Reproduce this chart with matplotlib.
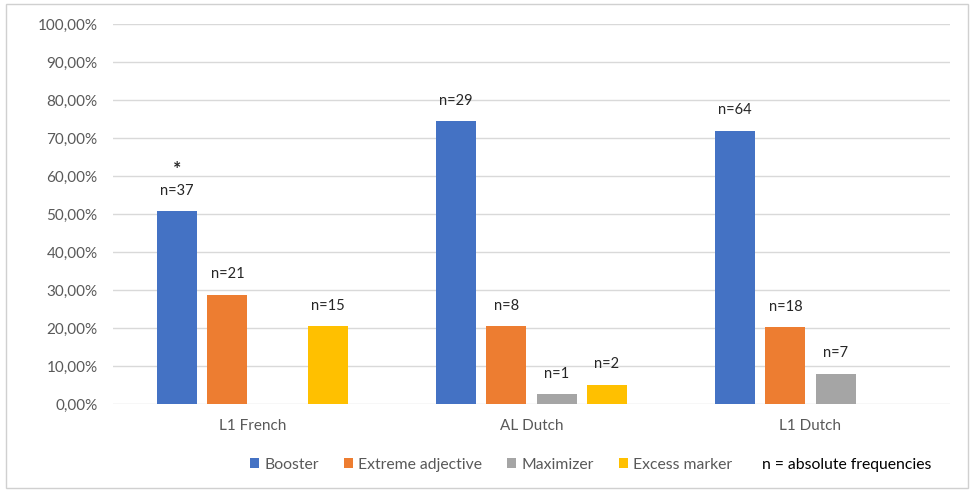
import matplotlib
matplotlib.use("Agg")
import matplotlib.pyplot as plt
from matplotlib.patches import Rectangle
from matplotlib.ticker import FuncFormatter
import numpy as np

groups = ["L1 French", "AL Dutch", "L1 Dutch"]
series = ["Booster", "Extreme adjective", "Maximizer", "Excess marker"]
colors = ["#4472C4", "#ED7D31", "#A5A5A5", "#FFC000"]

booster = [50.7, 74.4, 71.9]
extreme = [28.8, 20.5, 20.2]
maximizer = [0.0, 2.6, 7.9]
excess = [20.5, 5.1, 0.0]

n_booster = ["n=37", "n=29", "n=64"]
n_extreme = ["n=21", "n=8", "n=18"]
n_maximizer = ["", "n=1", "n=7"]
n_excess = ["n=15", "n=2", ""]

values = [booster, extreme, maximizer, excess]
labels = [n_booster, n_extreme, n_maximizer, n_excess]

plt.rcParams["font.family"] = ["Lato", "DejaVu Sans"]

fig = plt.figure(figsize=(9.73, 4.92), dpi=100)
ax = fig.add_axes([0.1161, 0.1789, 0.8602, 0.7724])

x = np.arange(len(groups))
pitch = 0.18
width = 0.143
label_gap = 5.4
for i, (vals, labs) in enumerate(zip(values, labels)):
    pos = x + (i - 1.5) * pitch
    ax.bar(pos, vals, width=width, color=colors[i], label=series[i], zorder=3)
    for p, v, t in zip(pos, vals, labs):
        if t:
            ax.text(p, v + label_gap, t, ha="center", va="center", fontsize=10.5,
                    color="#262626", zorder=4)

# significance mark above the first booster label
ax.text(x[0] - 1.5 * pitch, booster[0] + 9.6, "*", ha="center", va="baseline",
        fontsize=14, color="#262626", fontweight="bold")

ax.set_xlim(-0.5, 2.5)
ax.set_ylim(0, 100)
ax.set_yticks(np.arange(0, 101, 10))
ax.yaxis.set_major_formatter(FuncFormatter(lambda v, _: f"{v:.2f}%".replace(".", ",")))
ax.set_xticks(x)
ax.set_xticklabels(groups)
ax.tick_params(axis="both", length=0, labelsize=11, colors="#595959")
ax.tick_params(axis="y", pad=11)
ax.tick_params(axis="x", pad=11)
ax.grid(axis="y", color="#D9D9D9", linewidth=1.0, zorder=0)
for s in ax.spines.values():
    s.set_visible(False)

leg = fig.legend(loc="center", bbox_to_anchor=(0.5046, 0.055), ncol=4, frameon=False,
                 fontsize=11.3, handlelength=0.6, handleheight=0.6, handletextpad=0.3,
                 columnspacing=1.6, labelcolor="#595959")
fig.text(0.957, 0.054, "n = absolute frequencies", ha="right", va="center",
         fontsize=11.3, color="#000000")

fig.patches.append(Rectangle((6 / 973, 4 / 492), 962 / 973, 484 / 492,
                             transform=fig.transFigure, fill=False,
                             edgecolor="#D0D0D0", linewidth=1.0))

fig.savefig("out.png", dpi=100, facecolor="white")
